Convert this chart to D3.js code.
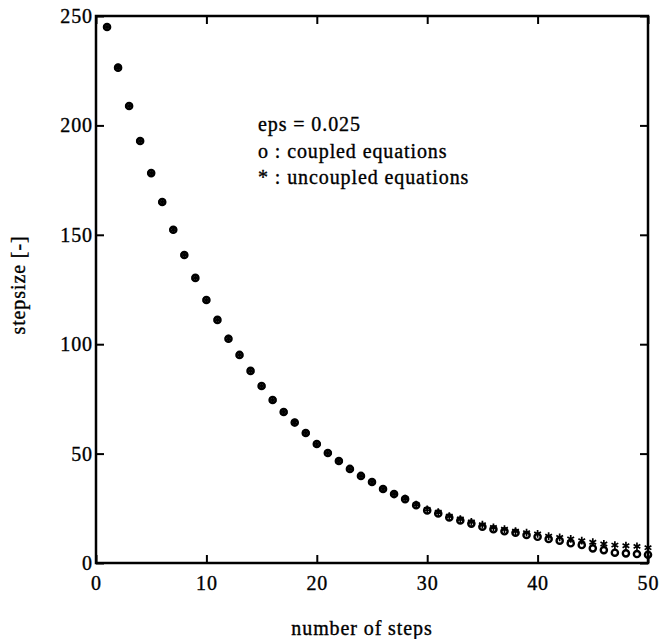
<!DOCTYPE html>
<html>
<head>
<meta charset="utf-8">
<script src="https://cdn.jsdelivr.net/npm/d3@7"></script>
<style>
  body { margin: 0; background: #fff; }
</style>
</head>
<body>
<div id="chart"></div>
<script>
// step number on x, stepsize on y
const steps = [1, 2, 3, 4, 5, 6, 7, 8, 9, 10,
  11, 12, 13, 14, 15, 16, 17, 18, 19, 20,
  21, 22, 23, 24, 25, 26, 27, 28, 29, 30,
  31, 32, 33, 34, 35, 36, 37, 38, 39, 40,
  41, 42, 43, 44, 45, 46, 47, 48, 49, 50];

// o : coupled equations
const coupled = [245.0, 226.4, 208.9, 192.9, 178.2, 165.0, 152.3, 140.8, 130.3, 120.2,
  111.1, 102.5, 95.1, 87.8, 80.9, 74.5, 69.0, 64.2, 59.4, 54.4,
  50.3, 46.6, 43.0, 39.8, 37.0, 33.8, 31.5, 29.2, 26.4, 24.0,
  22.6, 20.8, 19.4, 18.0, 16.6, 15.4, 14.5, 13.8, 12.8, 12.0,
  11.0, 10.2, 9.0, 8.2, 6.7, 5.9, 4.7, 4.4, 4.1, 3.8];

// * : uncoupled equations
const uncoupled = [245.0, 226.4, 208.9, 192.9, 178.2, 165.0, 152.3, 140.8, 130.3, 120.2,
  111.1, 102.5, 95.1, 87.8, 80.9, 74.5, 69.0, 64.2, 59.4, 54.4,
  50.3, 46.6, 43.0, 39.8, 37.0, 33.8, 31.6, 29.4, 26.7, 24.5,
  23.2, 21.4, 20.1, 18.8, 17.5, 16.3, 15.5, 14.6, 13.9, 13.3,
  12.3, 11.7, 11.0, 10.2, 9.5, 8.7, 8.2, 7.9, 7.6, 7.0];

const xTicks = [0, 10, 20, 30, 40, 50];
const yTicks = [0, 50, 100, 150, 200, 250];
const legendLines = ["eps = 0.025", "o : coupled equations", "* : uncoupled equations"];

const W = 659, H = 639;
const m = { top: 16, right: 11, bottom: 76, left: 96 };
const font = "'Liberation Serif', 'Times New Roman', serif";
const fs = 20, ls = 0.9;

const svg = d3.select("#chart").append("svg")
  .attr("width", W)
  .attr("height", H);

const x = d3.scaleLinear().domain([0, 50]).range([m.left, W - m.right]);
const y = d3.scaleLinear().domain([0, 250]).range([H - m.bottom, m.top]);

// scanned print looks heavy: thin stroke on the glyphs
function textStyle(sel) {
  sel.attr("fill", "#000")
    .attr("stroke", "#000")
    .attr("stroke-width", 0.35)
    .style("font-family", font)
    .style("font-size", fs + "px")
    .style("letter-spacing", ls + "px");
}

function styleAxis(g) {
  g.select(".domain").remove();
  g.selectAll(".tick line").attr("stroke", "#000").attr("stroke-width", 2);
  g.selectAll(".tick text").call(textStyle);
}

// axes, ticks pointing inward on all four sides
svg.append("g")
  .attr("transform", `translate(0,${y(0)})`)
  .call(d3.axisBottom(x).tickValues(xTicks).tickSize(-8).tickPadding(13))
  .call(styleAxis);

svg.append("g")
  .attr("transform", `translate(${x(0)},0)`)
  .call(d3.axisLeft(y).tickValues(yTicks).tickSize(-8).tickPadding(3))
  .call(styleAxis);

svg.append("g")
  .attr("transform", `translate(0,${y(250)})`)
  .call(d3.axisTop(x).tickValues(xTicks).tickSize(-8).tickFormat(""))
  .call(styleAxis);

svg.append("g")
  .attr("transform", `translate(${x(50)},0)`)
  .call(d3.axisRight(y).tickValues(yTicks).tickSize(-8).tickFormat(""))
  .call(styleAxis);

// frame
svg.append("rect")
  .attr("x", x(0))
  .attr("y", y(250))
  .attr("width", x(50) - x(0))
  .attr("height", y(0) - y(250))
  .attr("fill", "none")
  .attr("stroke", "#000")
  .attr("stroke-width", 2.5);

// coupled: open circles
svg.append("g")
  .selectAll("circle")
  .data(steps)
  .enter()
  .append("circle")
  .attr("cx", (d) => x(d))
  .attr("cy", (d, i) => y(coupled[i]))
  .attr("r", 3.1)
  .attr("fill", "none")
  .attr("stroke", "#000")
  .attr("stroke-width", 2.4);

// uncoupled: asterisks
const star = d3.symbol().type(d3.symbolAsterisk).size(42);
svg.append("g")
  .selectAll("path")
  .data(steps)
  .enter()
  .append("path")
  .attr("d", star)
  .attr("transform", (d, i) => `translate(${x(d)},${y(uncoupled[i])})`)
  .attr("fill", "none")
  .attr("stroke", "#000")
  .attr("stroke-width", 1.7);

// annotation
svg.append("g")
  .selectAll("text")
  .data(legendLines)
  .enter()
  .append("text")
  .attr("x", 258)
  .attr("y", (d, i) => 131 + i * 26.5)
  .text((d) => d)
  .call(textStyle);

// axis titles
svg.append("text")
  .attr("x", 362)
  .attr("y", 635)
  .attr("text-anchor", "middle")
  .text("number of steps")
  .call(textStyle);

svg.append("text")
  .attr("transform", "translate(25,285) rotate(-90)")
  .attr("text-anchor", "middle")
  .text("stepsize [-]")
  .call(textStyle);
</script>
</body>
</html>
